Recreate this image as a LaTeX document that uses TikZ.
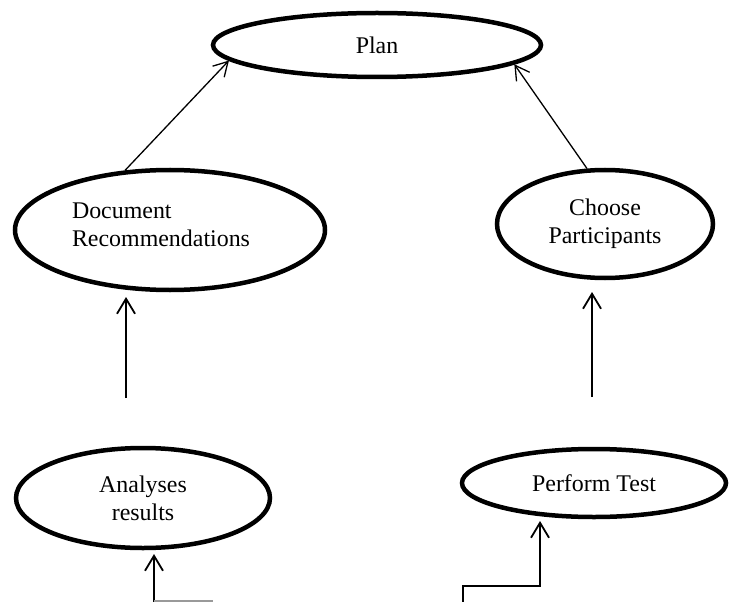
\documentclass[tikz,border=0pt]{standalone}
\usepackage{fontspec}
\setmainfont{Liberation Serif}
\usetikzlibrary{shapes.geometric,arrows.meta}
\begin{document}
\begin{tikzpicture}[x=1bp,y=-1bp,
  oval/.style={ellipse,draw,line width=4.5bp,inner sep=0pt,align=center,
    font=\fontsize{24}{28}\selectfont},
  txt/.style={inner sep=0pt,align=left,font=\fontsize{24}{28}\selectfont},
  arr/.style={line width=1.8bp,-{Straight Barb[length=15bp,width=18bp,line width=1.8bp]}},
  thin arr/.style={line width=1.3bp,-{Straight Barb[length=14bp,width=16bp,line width=1.3bp]}}]
\useasboundingbox (0,0) rectangle (734,602);
\node[oval,minimum width=328bp,minimum height=64bp] (plan) at (377,45) {Plan};
\node[oval,minimum width=310bp,minimum height=120bp] (doc) at (170,230) {};
\node[txt] (doctext) at (161,225) {Document\\Recommendations};
\node[oval,minimum width=216bp,minimum height=108bp] (choose) at (605,224) {Choose\\Participants};
\node[oval,minimum width=254bp,minimum height=100bp] (anal) at (143,498) {Analyses\\results};
\node[oval,minimum width=264bp,minimum height=68bp] (perf) at (594,483) {Perform Test};
\draw[thin arr] (doc.127) -- (plan.186);
\draw[thin arr] (choose.108) -- (plan.352);
\coordinate (l1s) at (126,398);
\coordinate (l1e) at (126,297);
\draw[arr] (l1s) -- (l1e);
\coordinate (r1s) at (592,397);
\coordinate (r1e) at (592,292);
\draw[arr] (r1s) -- (r1e);
\coordinate (l2s) at (154,602);
\coordinate (l2e) at (154,554);
\coordinate (l2h) at (213,601);
\draw[arr] (l2s) -- (l2e);
\draw[line width=1.5bp,black!40] (l2s |- l2h) -- (l2h);
\coordinate (r2s) at (463,602);
\coordinate (r2e) at (540,521);
\draw[arr] (r2s) -- (463,586) -| (r2e);
\end{tikzpicture}
\end{document}
